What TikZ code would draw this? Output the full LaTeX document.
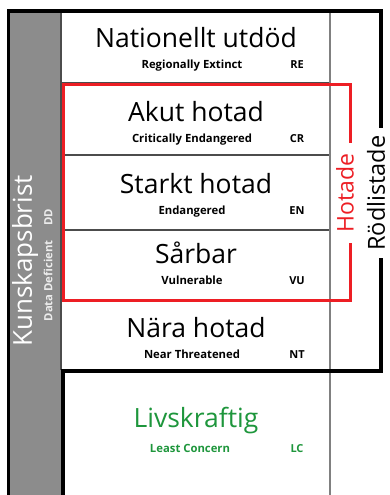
\documentclass[tikz,border=0pt]{standalone}
\usepackage{fontspec}
\setmainfont{Open Sans}
\definecolor{hotred}{RGB}{237,30,36}
\definecolor{lcgreen}{RGB}{30,150,60}
\definecolor{ddgray}{RGB}{140,140,140}
\begin{document}
\begin{tikzpicture}[x=1pt,y=-1pt,
    namn/.style={anchor=base,font=\fontsize{26.5}{26.5}\selectfont},
    eng/.style={anchor=base,font=\fontsize{11.3}{12}\selectfont\bfseries},
    kod/.style={anchor=base,font=\fontsize{11}{12}\selectfont\bfseries},
    sido/.style={rotate=90,fill=white,inner ysep=0pt,font=\fontsize{23}{23}\selectfont}]
  \useasboundingbox[fill=white] (0,0) rectangle (390,495);
  \fill[ddgray] (9,11) rectangle (61,495);
  \foreach \y in {83,155,230,300} \draw[black!70,line width=1.2] (61,\y) -- (330,\y);
  \draw[black!70,line width=1.2] (61,11) -- (61,370);
  \draw[gray,line width=1.5] (330,11) -- (330,495);
  \foreach \y/\sv/\en/\kod in {48/Nationellt utdöd/Regionally Extinct/RE,
      121/Akut hotad/Critically Endangered/CR,193/Starkt hotad/Endangered/EN,
      263/Sårbar/Vulnerable/VU,337/Nära hotad/Near Threatened/NT} {
    \node[namn] (sv\kod) at (196,\y) {\sv};
    \node[eng] (en\kod) at (192,\y+21) {\en};
    \node[kod] (kod\kod) at (297,\y+21) {\kod};
  }
  \node[namn,text=lcgreen] (svLC) at (196,427) {Livskraftig};
  \node[eng,text=lcgreen] (enLC) at (190,452) {Least Concern};
  \node[kod,text=lcgreen] (kodLC) at (297,452) {LC};
  \node[rotate=90,text=white,font=\fontsize{26}{26}\selectfont] (kunskap) at (25,261) {Kunskapsbrist};
  \node[rotate=90,text=white!85!gray,font=\fontsize{11.3}{12}\selectfont\bfseries] (dd) at (48,265) {Data Deficient\hspace{15pt}DD};
  \draw[hotred,line width=3] (63,84) rectangle (350,300);
  \node[sido,text=hotred,inner xsep=11pt] (hotade) at (345,193) {Hotade};
  \draw[black,line width=3.5] (8.5,495) -- (8.5,11) -- (381,11) -- (381,371) -- (63,371) -- (63,495);
  \node[sido,font=\fontsize{23.5}{23.5}\selectfont,inner xsep=7pt] (rodlist) at (376,193) {Rödlistade};
\end{tikzpicture}
\end{document}
